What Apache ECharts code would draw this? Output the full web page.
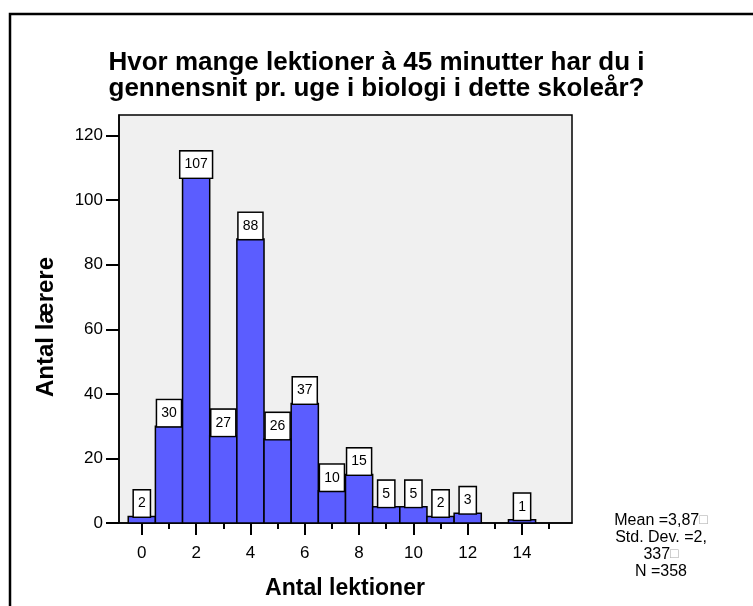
<!DOCTYPE html>
<html><head><meta charset="utf-8">
<script src="https://cdn.jsdelivr.net/npm/echarts@6/dist/echarts.min.js"></script>
<style>html,body{margin:0;padding:0;background:#fff}#c{width:753px;height:606px}</style>
</head><body><div id="c"></div>
<script>
// ---- data ----
const categories = [0,1,2,3,4,5,6,7,8,9,10,11,12,13,14];
const counts     = [2,30,107,27,88,26,37,10,15,5,5,2,3,0,1];
const xMajorTicks = [0,2,4,6,8,10,12,14];
const xMinorTicks = [1,3,5,7,9,11,13,15];
const yTicks = [0,20,40,60,80,100,120];
const titleLines = ['Hvor mange lektioner à 45 minutter har du i','gennensnit pr. uge i biologi i dette skoleår?'];
const xTitle = 'Antal lektioner';
const yTitle = 'Antal lærere';
const statsLines = ['Mean =3,87{b|□}','Std. Dev. =2,','337{b|□}','N =358'];

const FONT = '"Liberation Sans", Arial, sans-serif';
const chart = echarts.init(document.getElementById('c'), null, {renderer:'canvas'});
const barData = categories.map((c,i)=>[c,counts[i]]);

const option = {
  animation:false,
  backgroundColor:'#fff',
  title:{
    text: titleLines.join('\n'), left:'center', top:45,
    textStyle:{fontFamily:FONT, fontWeight:'bold', fontSize:26, color:'#000', lineHeight:26}
  },
  grid:{left:119, right:181, top:115, bottom:83, show:true, backgroundColor:'#f0f0f0', borderColor:'#000', borderWidth:1.5},
  xAxis:[{
    type:'value', min:-0.84, max:15.84, position:'bottom',
    axisLine:{show:true, onZero:false, lineStyle:{color:'#000', width:1.5}},
    axisTick:{show:true, customValues:xMajorTicks, length:12, lineStyle:{color:'#000', width:2}},
    axisLabel:{show:true, customValues:xMajorTicks, margin:22, fontSize:17, color:'#000', fontFamily:FONT},
    splitLine:{show:false}
  },{
    type:'value', min:-0.84, max:15.84, position:'bottom',
    axisLine:{show:false, onZero:false},
    axisTick:{show:true, customValues:xMinorTicks, length:6, lineStyle:{color:'#000', width:2}},
    axisLabel:{show:false},
    splitLine:{show:false}
  }],
  yAxis:{
    type:'value', min:0, max:126.4,
    axisLine:{show:true, onZero:false, lineStyle:{color:'#000', width:1.5}},
    axisTick:{show:true, customValues:yTicks, length:13, lineStyle:{color:'#000', width:2}},
    axisLabel:{show:true, customValues:yTicks, margin:16, fontSize:17, color:'#000', fontFamily:FONT},
    splitLine:{show:false}
  },
  series:[{
    type:'custom', xAxisIndex:0, yAxisIndex:0, data:barData, clip:false,
    renderItem:function(params, api){
      const x = api.value(0), v = api.value(1);
      if (!v) return null;
      const p0 = api.coord([x-0.5, v]);
      const p1 = api.coord([x+0.5, 0]);
      const cx = api.coord([x, v]);
      return {type:'group', children:[
        {type:'rect', shape:{x:p0[0], y:p0[1], width:p1[0]-p0[0], height:p1[1]-p0[1]},
         style:{fill:'#5b5dff', stroke:'#000', lineWidth:1.5}},
        {type:'text', z2:10, style:{text:String(v), x:cx[0], y:cx[1], align:'center', verticalAlign:'bottom',
          font:'14px '+FONT, fill:'#000', backgroundColor:'#fff', borderColor:'#000', borderWidth:1.5,
          padding:[6,4,6,4]}}
      ]};
    }
  }],
  graphic:[
    {type:'rect', shape:{x:10, y:14, width:800, height:700}, style:{fill:'none', stroke:'#000', lineWidth:2.5}, silent:true},
    {type:'text', x:46, y:327, rotation:Math.PI/2, style:{text:yTitle, align:'center', verticalAlign:'middle', font:'bold 24px '+FONT, fill:'#000'}},
    {type:'text', x:345, y:589, style:{text:xTitle, align:'center', verticalAlign:'middle', font:'bold 23px '+FONT, fill:'#000'}},
    {type:'text', x:661, y:512, style:{text:statsLines.join('\n'), align:'center', verticalAlign:'top', font:'16px '+FONT, fill:'#000', lineHeight:17,
      rich:{b:{fontSize:14, fill:'#aaa', fontFamily:FONT}}}}
  ]
};
chart.setOption(option);
</script></body></html>
